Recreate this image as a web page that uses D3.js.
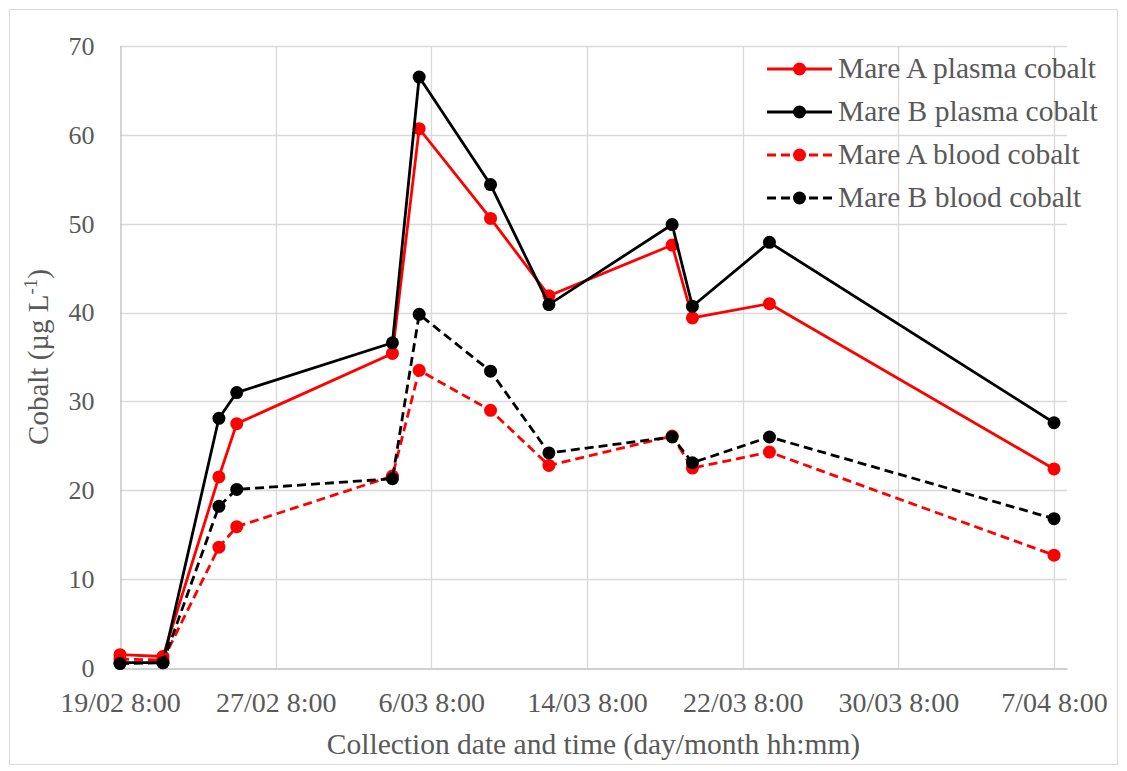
<!DOCTYPE html>
<html>
<head>
<meta charset="utf-8">
<script src="https://cdn.jsdelivr.net/npm/d3@7"></script>
<style>
  html, body { margin: 0; padding: 0; background: #fff; }
  svg { display: block; }
  text { font-family: "Liberation Serif", "Times New Roman", serif; fill: #595959; }
</style>
</head>
<body>
<svg id="chart" width="1127" height="771"></svg>
<script>
// Sampling times (day/month hh:mm, 2020)
const sampleTimes = [
  "19/02 08:00", "21/02 13:00", "24/02 10:00", "25/02 08:00",
  "4/03 08:00", "5/03 17:00", "9/03 09:00", "12/03 09:00",
  "18/03 17:00", "19/03 18:00", "23/03 17:00", "7/04 08:00"
];

// Cobalt concentrations (µg/L)
const mareAPlasma = [1.5, 1.3, 21.5, 27.5, 35.4, 60.7, 50.6, 41.9, 47.6, 39.4, 41.0, 22.4];
const mareBPlasma = [0.6, 0.6, 28.1, 31.0, 36.6, 66.5, 54.4, 40.9, 49.9, 40.7, 47.9, 27.6];
const mareABlood  = [1.0, 0.9, 13.6, 15.9, 21.6, 33.5, 29.0, 22.8, 26.1, 22.5, 24.3, 12.7];
const mareBBlood  = [0.5, 0.6, 18.2, 20.1, 21.3, 39.8, 33.4, 24.2, 26.0, 23.1, 26.0, 16.8];

const seriesNames = ["Mare A plasma cobalt", "Mare B plasma cobalt", "Mare A blood cobalt", "Mare B blood cobalt"];

// Axis settings
const xStart = "19/02 08:00";
const xEnd = "8/04 00:00";
const xTickStepDays = 8;
const xTickCount = 7;
const yTicks = [0, 10, 20, 30, 40, 50, 60, 70];

const parseTime = s => d3.timeParse("%d/%m/%Y %H:%M")(s.replace(" ", "/2020 "));
const fmtTick = d => `${d.getDate()}/${d3.timeFormat("%m")(d)} ${d.getHours()}:${d3.timeFormat("%M")(d)}`;

const svg = d3.select("#chart");
const plotLeft = 120, plotRight = 1067, plotTop = 46, plotBottom = 668;

// chart frame
svg.append("rect")
  .attr("x", 9.5).attr("y", 9.5)
  .attr("width", 1108).attr("height", 755)
  .attr("fill", "#fff").attr("stroke", "#d9d9d9").attr("stroke-width", 1);

const x = d3.scaleTime().domain([parseTime(xStart), parseTime(xEnd)]).range([plotLeft, plotRight]);
const y = d3.scaleLinear().domain([0, 70]).range([plotBottom, plotTop]);

const xTickValues = d3.range(xTickCount).map(i => d3.timeDay.offset(parseTime(xStart), i * xTickStepDays));

// gridlines
const grid = svg.append("g");
grid.selectAll("line.h").data(yTicks.filter(v => v > 0)).join("line")
  .attr("x1", plotLeft).attr("x2", plotRight)
  .attr("y1", d => Math.round(y(d)) + 0.5).attr("y2", d => Math.round(y(d)) + 0.5)
  .attr("stroke", "#d9d9d9").attr("stroke-width", 1.3);
grid.selectAll("line.v").data(xTickValues.slice(1)).join("line")
  .attr("x1", d => Math.round(x(d)) + 0.5).attr("x2", d => Math.round(x(d)) + 0.5)
  .attr("y1", plotTop).attr("y2", plotBottom)
  .attr("stroke", "#d9d9d9").attr("stroke-width", 1.3);

// axes
const yAxis = svg.append("g").attr("transform", `translate(${plotLeft + 0.5},0)`)
  .call(d3.axisLeft(y).tickValues(yTicks).tickSize(0).tickPadding(26));
yAxis.select(".domain").attr("stroke", "#bfbfbf").attr("stroke-width", 1.3);
yAxis.selectAll("text").attr("font-size", 26).attr("fill", "#595959")
  .attr("font-family", "Liberation Serif, serif");

const xAxis = svg.append("g").attr("transform", `translate(0,${plotBottom + 0.5})`)
  .call(d3.axisBottom(x).tickValues(xTickValues).tickFormat(fmtTick).tickSize(0).tickPadding(24));
xAxis.select(".domain").attr("stroke", "#bfbfbf").attr("stroke-width", 1.3);
xAxis.selectAll("text").attr("font-size", 28).attr("fill", "#595959")
  .attr("font-family", "Liberation Serif, serif");

// axis titles
svg.append("text")
  .attr("transform", `translate(48,${(plotTop + plotBottom) / 2}) rotate(-90)`)
  .attr("text-anchor", "middle").attr("font-size", 29)
  .call(t => {
    t.append("tspan").text("Cobalt (µg L");
    t.append("tspan").attr("font-size", 19).attr("dy", -11).text("-1");
    t.append("tspan").attr("dy", 11).text(")");
  });

svg.append("text")
  .attr("x", (plotLeft + plotRight) / 2).attr("y", 754)
  .attr("text-anchor", "middle").attr("font-size", 29.5)
  .text("Collection date and time (day/month hh:mm)");

// series
const times = sampleTimes.map(parseTime);
const series = [
  { name: seriesNames[0], values: mareAPlasma, color: "#ff0000", dash: null },
  { name: seriesNames[1], values: mareBPlasma, color: "#000000", dash: null },
  { name: seriesNames[2], values: mareABlood, color: "#ff0000", dash: "9,5" },
  { name: seriesNames[3], values: mareBBlood, color: "#000000", dash: "9,5" }
];

const line = d3.line().x(d => x(d.t)).y(d => y(d.v));

series.forEach(s => {
  const pts = times.map((t, i) => ({ t, v: s.values[i] }));
  const g = svg.append("g");
  g.append("path").datum(pts)
    .attr("d", line).attr("fill", "none")
    .attr("stroke", s.color).attr("stroke-width", 2.8)
    .attr("stroke-dasharray", s.dash);
  g.selectAll("circle").data(pts).join("circle")
    .attr("cx", d => x(d.t)).attr("cy", d => y(d.v))
    .attr("r", 6.5).attr("fill", s.color);
});

// legend
const legend = svg.append("g");
series.forEach((s, i) => {
  const cy = 69 + i * 43;
  legend.append("line")
    .attr("x1", 767).attr("x2", 832).attr("y1", cy).attr("y2", cy)
    .attr("stroke", s.color).attr("stroke-width", 2.8)
    .attr("stroke-dasharray", s.dash ? "9,5" : null);
  legend.append("circle").attr("cx", 799.5).attr("cy", cy).attr("r", 6.5).attr("fill", s.color);
  legend.append("text").attr("x", 838).attr("y", cy + 9)
    .attr("font-size", 29.5).text(s.name);
});
</script>
</body>
</html>
